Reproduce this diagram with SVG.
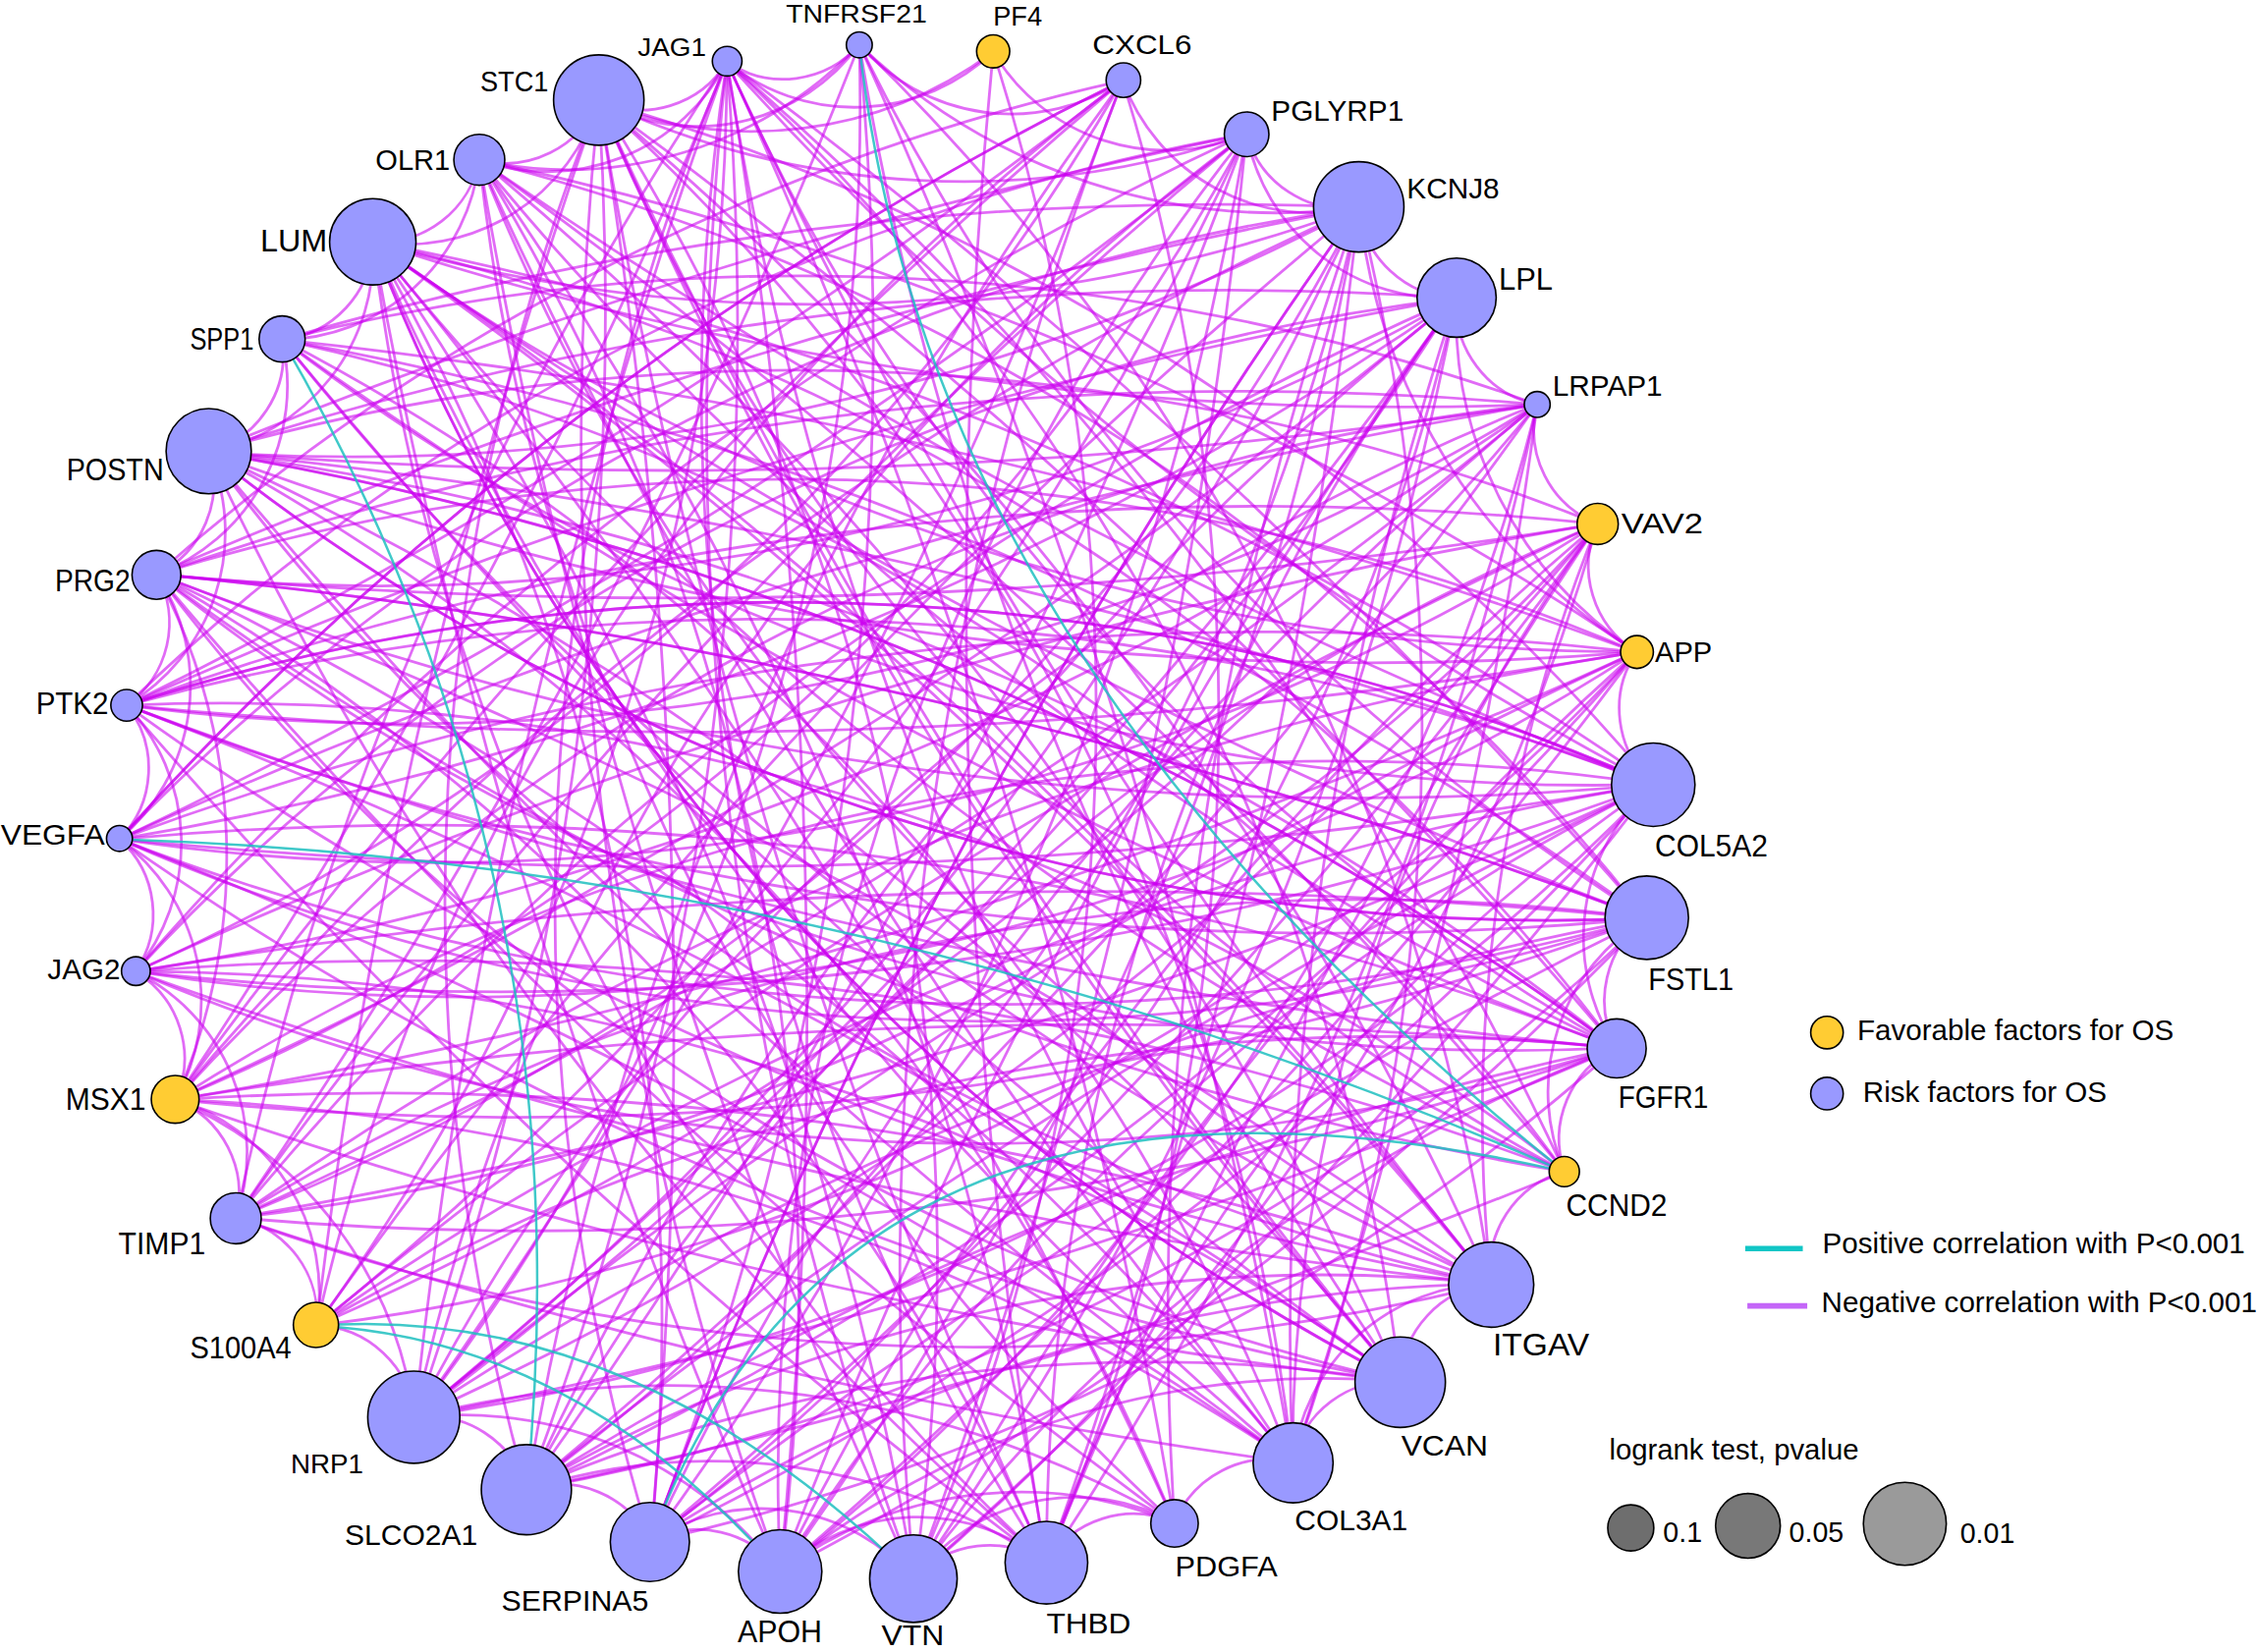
<svg xmlns="http://www.w3.org/2000/svg" width="2298" height="1682" viewBox="0 0 2298 1682">
<style>
.edges path{fill:none;stroke:#cc00f0;stroke-opacity:.58;stroke-width:1.9}
.pos path{fill:none;stroke:#1fc0c0;stroke-opacity:.85;stroke-width:1.7}
.node circle{stroke:#000;stroke-width:1.1}
.risk{fill:#9999ff}
.fav{fill:#ffcc33}
text{font-family:"Liberation Sans",Arial,sans-serif;fill:#000}
</style>
<rect width="2298" height="1682" fill="#fff"/>
<g transform="scale(1.4655)">
<g id="connectors">
<g class="edges">
<path d="M597 31A140 140 0 0 1 416 70"/>
<path d="M597 31A140 140 0 0 0 780 56"/>
<path d="M597 31A420 420 0 0 0 944 144"/>
<path d="M597 31A1500 1500 0 0 1 1036 892"/>
<path d="M597 31A2300 2300 0 0 0 973 960"/>
<path d="M597 31A4000 4000 0 0 1 898 1016"/>
<path d="M597 31A2300 2300 0 0 1 452 1071"/>
<path d="M597 31A1500 1500 0 0 1 288 985"/>
<path d="M597 31A1500 1500 0 0 0 1144 638"/>
<path d="M690 36A140 140 0 0 1 505 43"/>
<path d="M690 36A140 140 0 0 0 866 93"/>
<path d="M690 36A1500 1500 0 0 1 635 1097"/>
<path d="M690 36A4000 4000 0 0 0 727 1086"/>
<path d="M780 56A140 140 0 0 0 944 144"/>
<path d="M780 56A1500 1500 0 0 1 94 675"/>
<path d="M780 56A2300 2300 0 0 0 83 583"/>
<path d="M780 56A4000 4000 0 0 0 122 764"/>
<path d="M780 56A4000 4000 0 0 1 88 490"/>
<path d="M780 56A1500 1500 0 0 1 727 1086"/>
<path d="M780 56A2300 2300 0 0 0 635 1097"/>
<path d="M780 56A4000 4000 0 0 1 288 985"/>
<path d="M780 56A2300 2300 0 0 0 366 1035"/>
<path d="M780 56A1500 1500 0 0 0 220 921"/>
<path d="M866 93A600 600 0 0 1 416 70"/>
<path d="M866 93A70 70 0 0 0 944 144"/>
<path d="M866 93A140 140 0 0 0 1012 207"/>
<path d="M866 93A4000 4000 0 0 1 366 1035"/>
<path d="M866 93A1500 1500 0 0 0 288 985"/>
<path d="M866 93A2300 2300 0 0 1 220 921"/>
<path d="M866 93A4000 4000 0 0 0 164 846"/>
<path d="M866 93A1500 1500 0 0 1 122 764"/>
<path d="M866 93A2300 2300 0 0 1 452 1071"/>
<path d="M866 93A1500 1500 0 0 0 542 1092"/>
<path d="M866 93A4000 4000 0 0 1 635 1097"/>
<path d="M866 93A1500 1500 0 0 0 88 490"/>
<path d="M944 144A70 70 0 0 0 1012 207"/>
<path d="M944 144A1500 1500 0 0 1 898 1016"/>
<path d="M944 144A2300 2300 0 0 0 816 1058"/>
<path d="M944 144A4000 4000 0 0 1 727 1086"/>
<path d="M944 144A2300 2300 0 0 1 542 1092"/>
<path d="M944 144A4000 4000 0 0 0 452 1071"/>
<path d="M944 144A1500 1500 0 0 1 366 1035"/>
<path d="M944 144A2300 2300 0 0 1 288 985"/>
<path d="M944 144A4000 4000 0 0 0 220 921"/>
<path d="M944 144A1500 1500 0 0 1 164 846"/>
<path d="M944 144A2300 2300 0 0 0 122 764"/>
<path d="M944 144A1500 1500 0 0 0 83 583"/>
<path d="M944 144A1500 1500 0 0 1 145 314"/>
<path d="M944 144A1100 1100 0 0 1 259 168"/>
<path d="M1012 207A70 70 0 0 0 1068 281"/>
<path d="M1012 207A2300 2300 0 0 0 145 314"/>
<path d="M1012 207A1500 1500 0 0 1 109 399"/>
<path d="M1012 207A4000 4000 0 0 0 88 490"/>
<path d="M1012 207A1500 1500 0 0 0 94 675"/>
<path d="M1012 207A4000 4000 0 0 1 122 764"/>
<path d="M1012 207A2300 2300 0 0 0 164 846"/>
<path d="M1012 207A4000 4000 0 0 1 288 985"/>
<path d="M1012 207A2300 2300 0 0 0 366 1035"/>
<path d="M1012 207A2300 2300 0 0 1 83 583"/>
<path d="M1012 207A4000 4000 0 0 0 542 1092"/>
<path d="M1012 207A1500 1500 0 0 0 727 1086"/>
<path d="M1012 207A2300 2300 0 0 1 635 1097"/>
<path d="M1012 207A2300 2300 0 0 0 898 1016"/>
<path d="M1068 281A4000 4000 0 0 1 145 314"/>
<path d="M1068 281A1500 1500 0 0 0 196 236"/>
<path d="M1068 281A2300 2300 0 0 1 94 675"/>
<path d="M1068 281A1500 1500 0 0 0 122 764"/>
<path d="M1068 281A4000 4000 0 0 0 83 583"/>
<path d="M1068 281A4000 4000 0 0 1 164 846"/>
<path d="M1068 281A1500 1500 0 0 1 88 490"/>
<path d="M1068 281A1500 1500 0 0 0 288 985"/>
<path d="M1068 281A2300 2300 0 0 1 727 1086"/>
<path d="M1068 281A4000 4000 0 0 1 898 1016"/>
<path d="M1068 281A70 70 0 0 0 1110 364"/>
<path d="M1110 364A4000 4000 0 0 1 109 399"/>
<path d="M1110 364A2300 2300 0 0 0 88 490"/>
<path d="M1110 364A4000 4000 0 0 0 94 675"/>
<path d="M1110 364A1500 1500 0 0 1 83 583"/>
<path d="M1110 364A1500 1500 0 0 1 164 846"/>
<path d="M1110 364A1500 1500 0 0 0 145 314"/>
<path d="M1110 364A1500 1500 0 0 0 366 1035"/>
<path d="M1110 364A4000 4000 0 0 0 727 1086"/>
<path d="M1110 364A1100 1100 0 0 0 898 1016"/>
<path d="M1110 364A1100 1100 0 0 0 1036 892"/>
<path d="M1110 364A70 70 0 0 0 1137 453"/>
<path d="M1137 453A2300 2300 0 0 0 83 583"/>
<path d="M1137 453A4000 4000 0 0 1 88 490"/>
<path d="M1137 453A1500 1500 0 0 0 109 399"/>
<path d="M1137 453A1500 1500 0 0 1 94 675"/>
<path d="M1137 453A2300 2300 0 0 1 145 314"/>
<path d="M1137 453A1500 1500 0 0 1 259 168"/>
<path d="M1137 453A4000 4000 0 0 0 288 985"/>
<path d="M1137 453A2300 2300 0 0 1 366 1035"/>
<path d="M1137 453A1500 1500 0 0 1 220 921"/>
<path d="M1137 453A4000 4000 0 0 1 542 1092"/>
<path d="M1137 453A280 280 0 0 1 1012 207"/>
<path d="M1137 453A70 70 0 0 0 1149 545"/>
<path d="M1137 453A420 420 0 0 1 944 144"/>
<path d="M1149 545A1500 1500 0 0 0 88 490"/>
<path d="M1149 545A1700 1700 0 0 0 88 490"/>
<path d="M1149 545A4000 4000 0 0 1 333 111"/>
<path d="M1149 545A1500 1500 0 0 0 416 70"/>
<path d="M1149 545A2300 2300 0 0 0 259 168"/>
<path d="M1149 545A4000 4000 0 0 0 145 314"/>
<path d="M1149 545A4000 4000 0 0 1 83 583"/>
<path d="M1149 545A1500 1500 0 0 0 122 764"/>
<path d="M1149 545A1500 1500 0 0 1 288 985"/>
<path d="M1149 545A4000 4000 0 0 0 366 1035"/>
<path d="M1149 545A2300 2300 0 0 0 220 921"/>
<path d="M1149 545A1500 1500 0 0 0 542 1092"/>
<path d="M1149 545A2300 2300 0 0 1 505 43"/>
<path d="M1149 545A140 140 0 0 0 1123 728"/>
<path d="M1144 638A1500 1500 0 0 1 83 583"/>
<path d="M1144 638A1700 1700 0 0 1 83 583"/>
<path d="M1144 638A2300 2300 0 0 1 88 490"/>
<path d="M1144 638A1500 1500 0 0 1 145 314"/>
<path d="M1144 638A2300 2300 0 0 0 196 236"/>
<path d="M1144 638A4000 4000 0 0 1 259 168"/>
<path d="M1144 638A4000 4000 0 0 0 109 399"/>
<path d="M1144 638A2300 2300 0 0 1 122 764"/>
<path d="M1144 638A4000 4000 0 0 0 94 675"/>
<path d="M1144 638A2300 2300 0 0 0 288 985"/>
<path d="M1144 638A1500 1500 0 0 1 366 1035"/>
<path d="M1144 638A4000 4000 0 0 0 452 1071"/>
<path d="M1144 638A4000 4000 0 0 0 505 43"/>
<path d="M1144 638A70 70 0 0 0 1123 728"/>
<path d="M1123 728A2300 2300 0 0 0 145 314"/>
<path d="M1123 728A2000 2000 0 0 0 145 314"/>
<path d="M1123 728A1500 1500 0 0 1 109 399"/>
<path d="M1123 728A4000 4000 0 0 1 196 236"/>
<path d="M1123 728A2300 2300 0 0 0 83 583"/>
<path d="M1123 728A1500 1500 0 0 0 259 168"/>
<path d="M1123 728A1500 1500 0 0 1 94 675"/>
<path d="M1123 728A2300 2300 0 0 1 164 846"/>
<path d="M1123 728A4000 4000 0 0 1 288 985"/>
<path d="M1123 728A2300 2300 0 0 1 333 111"/>
<path d="M1123 728A70 70 0 0 0 1087 814"/>
<path d="M1087 814A2300 2300 0 0 1 109 399"/>
<path d="M1087 814A2300 2300 0 0 1 259 168"/>
<path d="M1087 814A2300 2300 0 0 0 94 675"/>
<path d="M1087 814A70 70 0 0 0 1036 892"/>
<path d="M1087 814A140 140 0 0 1 1144 638"/>
<path d="M1036 892A1500 1500 0 0 1 145 314"/>
<path d="M1036 892A4000 4000 0 0 0 259 168"/>
<path d="M1036 892A2300 2300 0 0 1 196 236"/>
<path d="M1036 892A1500 1500 0 0 1 333 111"/>
<path d="M1036 892A2300 2300 0 0 0 416 70"/>
<path d="M1036 892A4000 4000 0 0 1 505 43"/>
<path d="M1036 892A4000 4000 0 0 0 109 399"/>
<path d="M1036 892A2300 2300 0 0 1 88 490"/>
<path d="M1036 892A4000 4000 0 0 1 94 675"/>
<path d="M1036 892A2300 2300 0 0 0 122 764"/>
<path d="M1036 892A1500 1500 0 0 1 164 846"/>
<path d="M1036 892A70 70 0 0 0 973 960"/>
<path d="M973 960A1500 1500 0 0 1 259 168"/>
<path d="M973 960A2300 2300 0 0 0 145 314"/>
<path d="M973 960A4000 4000 0 0 1 196 236"/>
<path d="M973 960A2300 2300 0 0 0 333 111"/>
<path d="M973 960A4000 4000 0 0 1 416 70"/>
<path d="M973 960A1500 1500 0 0 0 505 43"/>
<path d="M973 960A1500 1500 0 0 1 109 399"/>
<path d="M973 960A2300 2300 0 0 1 83 583"/>
<path d="M973 960A4000 4000 0 0 0 88 490"/>
<path d="M973 960A4000 4000 0 0 1 122 764"/>
<path d="M973 960A1500 1500 0 0 0 94 675"/>
<path d="M973 960A70 70 0 0 0 898 1016"/>
<path d="M898 1016A2300 2300 0 0 1 259 168"/>
<path d="M898 1016A4000 4000 0 0 1 333 111"/>
<path d="M898 1016A1500 1500 0 0 0 416 70"/>
<path d="M898 1016A2300 2300 0 0 1 505 43"/>
<path d="M898 1016A1500 1500 0 0 0 196 236"/>
<path d="M898 1016A2300 2300 0 0 0 109 399"/>
<path d="M898 1016A4000 4000 0 0 1 145 314"/>
<path d="M898 1016A4000 4000 0 0 0 83 583"/>
<path d="M898 1016A4000 4000 0 0 1 164 846"/>
<path d="M898 1016A1500 1500 0 0 0 122 764"/>
<path d="M898 1016A70 70 0 0 0 816 1058"/>
<path d="M898 1016A140 140 0 0 1 1036 892"/>
<path d="M816 1058A700 700 0 0 0 288 985"/>
<path d="M816 1058A280 280 0 0 0 542 1092"/>
<path d="M816 1058A140 140 0 0 0 635 1097"/>
<path d="M816 1058A70 70 0 0 0 727 1086"/>
<path d="M816 1058A4000 4000 0 0 0 259 168"/>
<path d="M816 1058A4000 4000 0 0 1 109 399"/>
<path d="M816 1058A1500 1500 0 0 0 145 314"/>
<path d="M816 1058A1500 1500 0 0 1 333 111"/>
<path d="M816 1058A4000 4000 0 0 0 505 43"/>
<path d="M727 1086A420 420 0 0 0 366 1035"/>
<path d="M727 1086A2300 2300 0 0 1 145 314"/>
<path d="M727 1086A1500 1500 0 0 1 259 168"/>
<path d="M727 1086A4000 4000 0 0 1 416 70"/>
<path d="M727 1086A1500 1500 0 0 1 505 43"/>
<path d="M727 1086A1500 1500 0 0 0 109 399"/>
<path d="M727 1086A140 140 0 0 0 542 1092"/>
<path d="M727 1086A70 70 0 0 0 635 1097"/>
<path d="M727 1086A4000 4000 0 0 1 88 490"/>
<path d="M727 1086A1100 1100 0 0 1 1149 545"/>
<path d="M635 1097A2300 2300 0 0 1 505 43"/>
<path d="M635 1097A1500 1500 0 0 0 416 70"/>
<path d="M635 1097A4000 4000 0 0 1 333 111"/>
<path d="M635 1097A1500 1500 0 0 0 1110 364"/>
<path d="M635 1097A2300 2300 0 0 1 1137 453"/>
<path d="M635 1097A4000 4000 0 0 0 1149 545"/>
<path d="M635 1097A1100 1100 0 0 1 1123 728"/>
<path d="M635 1097A140 140 0 0 0 452 1071"/>
<path d="M635 1097A2300 2300 0 0 0 259 168"/>
<path d="M542 1092A280 280 0 0 0 288 985"/>
<path d="M542 1092A4000 4000 0 0 0 505 43"/>
<path d="M542 1092A2300 2300 0 0 1 416 70"/>
<path d="M542 1092A1500 1500 0 0 0 333 111"/>
<path d="M542 1092A2300 2300 0 0 1 1110 364"/>
<path d="M542 1092A1500 1500 0 0 0 1068 281"/>
<path d="M542 1092A2300 2300 0 0 0 1144 638"/>
<path d="M542 1092A70 70 0 0 0 452 1071"/>
<path d="M542 1092A600 600 0 0 1 973 960"/>
<path d="M452 1071A70 70 0 0 0 366 1035"/>
<path d="M452 1071A4000 4000 0 0 0 1110 364"/>
<path d="M452 1071A2300 2300 0 0 1 1068 281"/>
<path d="M452 1071A1500 1500 0 0 0 1012 207"/>
<path d="M452 1071A4000 4000 0 0 1 944 144"/>
<path d="M452 1071A2300 2300 0 0 0 1149 545"/>
<path d="M452 1071A1500 1500 0 0 0 1123 728"/>
<path d="M452 1071A4000 4000 0 0 0 416 70"/>
<path d="M452 1071A1100 1100 0 0 1 1036 892"/>
<path d="M366 1035A4000 4000 0 0 0 1068 281"/>
<path d="M366 1035A2300 2300 0 0 1 1123 728"/>
<path d="M366 1035A1100 1100 0 0 1 1036 892"/>
<path d="M366 1035A2300 2300 0 0 0 505 43"/>
<path d="M366 1035A1100 1100 0 0 1 973 960"/>
<path d="M366 1035A4000 4000 0 0 0 1087 814"/>
<path d="M288 985A2300 2300 0 0 0 1110 364"/>
<path d="M288 985A4000 4000 0 0 1 505 43"/>
<path d="M288 985A2300 2300 0 0 0 416 70"/>
<path d="M288 985A70 70 0 0 0 220 921"/>
<path d="M288 985A70 70 0 0 1 366 1035"/>
<path d="M288 985A3000 3000 0 0 0 1012 207"/>
<path d="M220 921A70 70 0 0 0 164 846"/>
<path d="M220 921A1500 1500 0 0 1 1123 728"/>
<path d="M220 921A2300 2300 0 0 0 1068 281"/>
<path d="M220 921A4000 4000 0 0 1 1110 364"/>
<path d="M164 846A70 70 0 0 0 122 764"/>
<path d="M164 846A4000 4000 0 0 0 1149 545"/>
<path d="M164 846A1500 1500 0 0 1 1144 638"/>
<path d="M164 846A2300 2300 0 0 1 505 43"/>
<path d="M164 846A4000 4000 0 0 0 597 31"/>
<path d="M164 846A2300 2300 0 0 1 1137 453"/>
<path d="M122 764A70 70 0 0 0 94 675"/>
<path d="M122 764A4000 4000 0 0 0 1137 453"/>
<path d="M122 764A4000 4000 0 0 1 1123 728"/>
<path d="M122 764A140 140 0 0 1 220 921"/>
<path d="M122 764A280 280 0 0 1 288 985"/>
<path d="M94 675A70 70 0 0 0 83 583"/>
<path d="M94 675A2300 2300 0 0 0 1149 545"/>
<path d="M94 675A2300 2300 0 0 1 866 93"/>
<path d="M94 675A140 140 0 0 1 164 846"/>
<path d="M83 583A70 70 0 0 0 88 490"/>
<path d="M83 583A2300 2300 0 0 1 780 56"/>
<path d="M83 583A4000 4000 0 0 0 866 93"/>
<path d="M83 583A140 140 0 0 1 122 764"/>
<path d="M88 490A70 70 0 0 0 109 399"/>
<path d="M88 490A1500 1500 0 0 1 1149 545"/>
<path d="M88 490A4000 4000 0 0 0 1123 728"/>
<path d="M88 490A140 140 0 0 1 94 675"/>
<path d="M88 490A1500 1500 0 0 1 1087 814"/>
<path d="M109 399A70 70 0 0 0 145 314"/>
<path d="M109 399A4000 4000 0 0 1 944 144"/>
<path d="M109 399A1500 1500 0 0 1 780 56"/>
<path d="M109 399A4000 4000 0 0 1 1144 638"/>
<path d="M109 399A2300 2300 0 0 0 1149 545"/>
<path d="M109 399A2300 2300 0 0 1 1068 281"/>
<path d="M109 399A140 140 0 0 1 83 583"/>
<path d="M109 399A420 420 0 0 1 122 764"/>
<path d="M145 314A70 70 0 0 0 196 236"/>
<path d="M145 314A2300 2300 0 0 1 1123 728"/>
<path d="M145 314A1500 1500 0 0 0 1144 638"/>
<path d="M145 314A140 140 0 0 1 88 490"/>
<path d="M145 314A140 140 0 0 0 259 168"/>
<path d="M145 314A4000 4000 0 0 1 866 93"/>
<path d="M196 236A70 70 0 0 0 259 168"/>
<path d="M196 236A1500 1500 0 0 0 1149 545"/>
<path d="M196 236A4000 4000 0 0 1 1137 453"/>
<path d="M196 236A140 140 0 0 1 109 399"/>
<path d="M196 236A140 140 0 0 0 333 111"/>
<path d="M196 236A1500 1500 0 0 1 1087 814"/>
<path d="M196 236A2300 2300 0 0 1 944 144"/>
<path d="M259 168A70 70 0 0 0 333 111"/>
<path d="M259 168A140 140 0 0 0 416 70"/>
<path d="M259 168A1500 1500 0 0 0 973 960"/>
<path d="M259 168A3500 3500 0 0 1 1036 892"/>
<path d="M259 168A4000 4000 0 0 0 542 1092"/>
<path d="M259 168A1500 1500 0 0 1 452 1071"/>
<path d="M259 168A2300 2300 0 0 0 1068 281"/>
<path d="M333 111A70 70 0 0 0 416 70"/>
<path d="M333 111A140 140 0 0 0 505 43"/>
<path d="M333 111A280 280 0 0 0 597 31"/>
<path d="M333 111A4000 4000 0 0 1 1087 814"/>
<path d="M333 111A2300 2300 0 0 1 727 1086"/>
<path d="M333 111A1500 1500 0 0 1 1144 638"/>
<path d="M333 111A2300 2300 0 0 1 1137 453"/>
<path d="M416 70A70 70 0 0 0 505 43"/>
<path d="M416 70A3500 3500 0 0 0 973 960"/>
<path d="M416 70A4000 4000 0 0 1 1123 728"/>
<path d="M416 70A1500 1500 0 0 0 366 1035"/>
<path d="M416 70A4000 4000 0 0 0 220 921"/>
<path d="M416 70A1500 1500 0 0 0 1087 814"/>
<path d="M416 70A280 280 0 0 0 690 36"/>
<path d="M505 43A1500 1500 0 0 0 452 1071"/>
<path d="M505 43A1500 1500 0 0 1 220 921"/>
<path d="M505 43A1500 1500 0 0 0 1123 728"/>
<path d="M505 43A2300 2300 0 0 1 1087 814"/>
<path d="M505 43A70 70 0 0 0 597 31"/>
<path d="M505 43A4000 4000 0 0 1 122 764"/>
</g>
<g class="pos">
<path d="M597 31Q644 460 1087 814"/>
<path d="M83 583Q600 600 1087 814"/>
<path d="M452 1071Q590 700 1087 814"/>
<path d="M196 236Q409 603 366 1035"/>
<path d="M220 921Q400 930 542 1092"/>
<path d="M220 921Q440 905 635 1097"/>
</g>
</g>
<g id="nodes" font-size="20.5">
<g id="n-TNFRSF21" class="node"><circle class="risk" cx="597" cy="31.2" r="9"/><text x="546" y="16" font-size="18" textLength="98" lengthAdjust="spacingAndGlyphs">TNFRSF21</text></g>
<g id="n-PF4" class="node"><circle class="fav" cx="690" cy="35.7" r="11.5"/><text x="690" y="17.7" font-size="19" textLength="34" lengthAdjust="spacingAndGlyphs">PF4</text></g>
<g id="n-CXCL6" class="node"><circle class="risk" cx="780.5" cy="55.7" r="12"/><text x="759" y="37.5" font-size="19" textLength="69" lengthAdjust="spacingAndGlyphs">CXCL6</text></g>
<g id="n-PGLYRP1" class="node"><circle class="risk" cx="866.1" cy="93.3" r="15.5"/><text x="883.2" y="83.7" font-size="20" textLength="92" lengthAdjust="spacingAndGlyphs">PGLYRP1</text></g>
<g id="n-KCNJ8" class="node"><circle class="risk" cx="944" cy="143.7" r="31.4"/><text x="977.4" y="137.6" font-size="20" textLength="64.3" lengthAdjust="spacingAndGlyphs">KCNJ8</text></g>
<g id="n-LPL" class="node"><circle class="risk" cx="1012" cy="206.8" r="27.5"/><text x="1041.3" y="201.6" font-size="21" textLength="37.5" lengthAdjust="spacingAndGlyphs">LPL</text></g>
<g id="n-LRPAP1" class="node"><circle class="risk" cx="1068" cy="281" r="9"/><text x="1078.6" y="275.2" font-size="19.5" textLength="76.4" lengthAdjust="spacingAndGlyphs">LRPAP1</text></g>
<g id="n-VAV2" class="node"><circle class="fav" cx="1110" cy="364" r="14.3"/><text x="1126.4" y="370.8" font-size="19.5" textLength="56.8" lengthAdjust="spacingAndGlyphs">VAV2</text></g>
<g id="n-APP" class="node"><circle class="fav" cx="1137.3" cy="453" r="11.4"/><text x="1149.8" y="459.6" font-size="20" textLength="39.7" lengthAdjust="spacingAndGlyphs">APP</text></g>
<g id="n-COL5A2" class="node"><circle class="risk" cx="1148.6" cy="545.2" r="29"/><text x="1149.8" y="595.2" font-size="21" textLength="78.4" lengthAdjust="spacingAndGlyphs">COL5A2</text></g>
<g id="n-FSTL1" class="node"><circle class="risk" cx="1144.1" cy="637.6" r="29"/><text x="1145.2" y="687.6" font-size="21" textLength="59.2" lengthAdjust="spacingAndGlyphs">FSTL1</text></g>
<g id="n-FGFR1" class="node"><circle class="risk" cx="1123.2" cy="728.4" r="20.5"/><text x="1124.3" y="770" font-size="21" textLength="62.5" lengthAdjust="spacingAndGlyphs">FGFR1</text></g>
<g id="n-CCND2" class="node"><circle class="fav" cx="1086.8" cy="814" r="10.5"/><text x="1088" y="845" font-size="21" textLength="70.3" lengthAdjust="spacingAndGlyphs">CCND2</text></g>
<g id="n-ITGAV" class="node"><circle class="risk" cx="1036" cy="892.5" r="29.6"/><text x="1037.2" y="942" font-size="21" textLength="67" lengthAdjust="spacingAndGlyphs">ITGAV</text></g>
<g id="n-VCAN" class="node"><circle class="risk" cx="972.8" cy="960.3" r="31.4"/><text x="973.5" y="1011" font-size="20.5" textLength="60.3" lengthAdjust="spacingAndGlyphs">VCAN</text></g>
<g id="n-COL3A1" class="node"><circle class="risk" cx="898.4" cy="1016.3" r="27.8"/><text x="899.6" y="1063.3" font-size="20.5" textLength="78.4" lengthAdjust="spacingAndGlyphs">COL3A1</text></g>
<g id="n-PDGFA" class="node"><circle class="risk" cx="816" cy="1058.4" r="16.5"/><text x="816.5" y="1095.2" font-size="20.5" textLength="71" lengthAdjust="spacingAndGlyphs">PDGFA</text></g>
<g id="n-THBD" class="node"><circle class="risk" cx="727" cy="1085.7" r="28.7"/><text x="727" y="1135" font-size="20.5" textLength="58.7" lengthAdjust="spacingAndGlyphs">THBD</text></g>
<g id="n-VTN" class="node"><circle class="risk" cx="634.6" cy="1096.8" r="30.4"/><text x="612.5" y="1143" font-size="20.5" textLength="43.5" lengthAdjust="spacingAndGlyphs">VTN</text></g>
<g id="n-APOH" class="node"><circle class="risk" cx="542" cy="1091.8" r="29"/><text x="512.4" y="1141" font-size="21" textLength="58.7" lengthAdjust="spacingAndGlyphs">APOH</text></g>
<g id="n-SERPINA5" class="node"><circle class="risk" cx="451.5" cy="1071.3" r="27.5"/><text x="348.4" y="1119" font-size="20.5" textLength="102.2" lengthAdjust="spacingAndGlyphs">SERPINA5</text></g>
<g id="n-SLCO2A1" class="node"><circle class="risk" cx="365.7" cy="1035" r="31.3"/><text x="239.5" y="1073.6" font-size="20.5" textLength="92.3" lengthAdjust="spacingAndGlyphs">SLCO2A1</text></g>
<g id="n-NRP1" class="node"><circle class="risk" cx="287.5" cy="984.6" r="32"/><text x="202" y="1023.5" font-size="19" textLength="50.5" lengthAdjust="spacingAndGlyphs">NRP1</text></g>
<g id="n-S100A4" class="node"><circle class="fav" cx="219.5" cy="920.5" r="15.7"/><text x="132" y="944" font-size="21" textLength="70.5" lengthAdjust="spacingAndGlyphs">S100A4</text></g>
<g id="n-TIMP1" class="node"><circle class="risk" cx="163.8" cy="846.4" r="17.7"/><text x="82.3" y="871.5" font-size="21" textLength="60.5" lengthAdjust="spacingAndGlyphs">TIMP1</text></g>
<g id="n-MSX1" class="node"><circle class="fav" cx="121.7" cy="763.8" r="16.6"/><text x="45.5" y="771" font-size="21" textLength="55.7" lengthAdjust="spacingAndGlyphs">MSX1</text></g>
<g id="n-JAG2" class="node"><circle class="risk" cx="94.4" cy="674.7" r="10"/><text x="33" y="680" font-size="20" textLength="50.5" lengthAdjust="spacingAndGlyphs">JAG2</text></g>
<g id="n-VEGFA" class="node"><circle class="risk" cx="83" cy="582.5" r="9"/><text x="0.5" y="587" font-size="20" textLength="72.3" lengthAdjust="spacingAndGlyphs">VEGFA</text></g>
<g id="n-PTK2" class="node"><circle class="risk" cx="88" cy="490" r="11"/><text x="25" y="496" font-size="21.5" textLength="50.4" lengthAdjust="spacingAndGlyphs">PTK2</text></g>
<g id="n-PRG2" class="node"><circle class="risk" cx="108.7" cy="399.4" r="17"/><text x="38.2" y="411" font-size="21" textLength="52.3" lengthAdjust="spacingAndGlyphs">PRG2</text></g>
<g id="n-POSTN" class="node"><circle class="risk" cx="145" cy="313.5" r="29.6"/><text x="46.2" y="334" font-size="22" textLength="67.5" lengthAdjust="spacingAndGlyphs">POSTN</text></g>
<g id="n-SPP1" class="node"><circle class="risk" cx="196" cy="235.5" r="16"/><text x="132" y="243" font-size="21" textLength="44.3" lengthAdjust="spacingAndGlyphs">SPP1</text></g>
<g id="n-LUM" class="node"><circle class="risk" cx="259" cy="168" r="30"/><text x="180.8" y="174.7" font-size="21" textLength="46.6" lengthAdjust="spacingAndGlyphs">LUM</text></g>
<g id="n-OLR1" class="node"><circle class="risk" cx="333" cy="111" r="17.7"/><text x="260.9" y="118.3" font-size="20.5" textLength="51.8" lengthAdjust="spacingAndGlyphs">OLR1</text></g>
<g id="n-STC1" class="node"><circle class="risk" cx="416" cy="69.5" r="31.4"/><text x="333.7" y="63.7" font-size="20.5" textLength="47.3" lengthAdjust="spacingAndGlyphs">STC1</text></g>
<g id="n-JAG1" class="node"><circle class="risk" cx="505.2" cy="42.5" r="10.3"/><text x="443" y="38.8" font-size="18" textLength="47.6" lengthAdjust="spacingAndGlyphs">JAG1</text></g>
</g>
<g id="legend" font-size="20.2">
<circle cx="1269.3" cy="717.4" r="11.3" fill="#ffcc33" stroke="#000" stroke-width="1.1"/>
<text x="1290.3" y="722.8">Favorable factors for OS</text>
<circle cx="1269.3" cy="759.8" r="11.3" fill="#9999ff" stroke="#000" stroke-width="1.1"/>
<text x="1294.3" y="765.5">Risk factors for OS</text>
<line x1="1212.5" y1="867.5" x2="1252.5" y2="867.5" stroke="#11c6c6" stroke-width="3.8"/>
<text x="1266.2" y="870.4">Positive correlation with P&lt;0.001</text>
<line x1="1214" y1="907.3" x2="1255.6" y2="907.3" stroke="#c466f8" stroke-width="3.8"/>
<text x="1265.5" y="911.7">Negative correlation with P&lt;0.001</text>
<text x="1118" y="1014.3" font-size="20">logrank test, pvalue</text>
<circle cx="1133" cy="1061.5" r="16" fill="#6e6e6e" stroke="#000" stroke-width="1.1"/>
<text x="1155.5" y="1071" font-size="19.5">0.1</text>
<circle cx="1214.4" cy="1060.1" r="22.5" fill="#787878" stroke="#000" stroke-width="1.1"/>
<text x="1243" y="1071" font-size="19.5">0.05</text>
<circle cx="1323.4" cy="1058.7" r="28.8" fill="#9a9a9a" stroke="#000" stroke-width="1.1"/>
<text x="1361.8" y="1072.3" font-size="19.5">0.01</text>
</g>
</g>
</svg>
